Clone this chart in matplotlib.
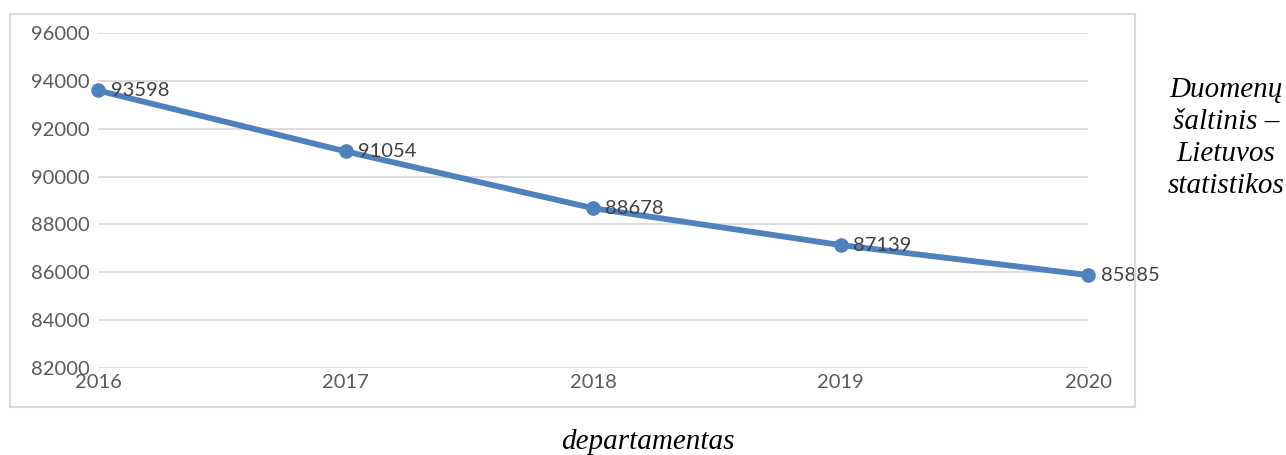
import matplotlib.pyplot as plt
from matplotlib.patches import Rectangle

years = [2016, 2017, 2018, 2019, 2020]
values = [93598, 91054, 88678, 87139, 85885]
y_ticks = [82000, 84000, 86000, 88000, 90000, 92000, 94000, 96000]

LINE_COL = '#4F81BD'
TXT_COL = '#595959'

plt.rcParams['font.family'] = ['Lato', 'DejaVu Sans']

fig = plt.figure(figsize=(12.86, 4.55), dpi=100)
W, H = 1286, 455

# outer chart frame
fig.patches.append(Rectangle((10 / W, 1 - 407 / H), 1125 / W, 393 / H,
                             transform=fig.transFigure, fill=False,
                             edgecolor='#D9D9D9', linewidth=1.5))

ax = fig.add_axes([98 / W, 1 - 368 / H, 990 / W, 335 / H])
ax.plot(years, values, color=LINE_COL, linewidth=4.2, marker='o',
        markersize=9.5, zorder=3, clip_on=False)
for x, v in zip(years, values):
    ax.annotate(str(v), (x, v), xytext=(9, 0), textcoords='offset points',
                va='center', ha='left', fontsize=14.5, color='#404040')

ax.set_xlim(2016, 2020)
ax.set_ylim(82000, 96000)
ax.set_yticks(y_ticks)
ax.set_xticks(years)
ax.grid(axis='y', color='#D9D9D9', linewidth=1.3)
ax.set_axisbelow(True)
for s in ax.spines.values():
    s.set_visible(False)
ax.tick_params(length=0, labelsize=14.5, labelcolor=TXT_COL)
ax.tick_params(axis='x', pad=4)
ax.tick_params(axis='y', pad=6)

fig.text(1226 / W, 1 - 138 / H, 'Duomenų\nšaltinis –\nLietuvos\nstatistikos',
         ha='center', va='center', fontsize=21, style='italic',
         family='Liberation Serif', linespacing=1.3, color='black')
fig.text(648 / W, 1 - 442 / H, 'departamentas', ha='center', va='center',
         fontsize=21, style='italic', family='Liberation Serif', color='black')

fig.savefig('out.png', dpi=100)
